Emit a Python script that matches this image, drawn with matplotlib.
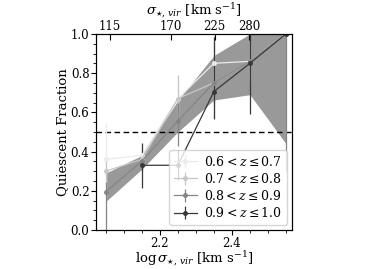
import numpy as np
import matplotlib
matplotlib.use("Agg")
import matplotlib.pyplot as plt
from matplotlib.ticker import MultipleLocator, FixedLocator

plt.rcParams['font.family'] = ['DejaVu Serif']
plt.rcParams['mathtext.fontset'] = 'dejavuserif'

logsig = np.array([2.05, 2.15, 2.25, 2.35, 2.45, 2.55])

labels = [r"$0.6 < z \leq 0.7$", r"$0.7 < z \leq 0.8$",
          r"$0.8 < z \leq 0.9$", r"$0.9 < z \leq 1.0$"]
colors = ['0.92', '0.78', '0.52', '0.22']

f1 = [0.36, 0.38, 0.67, 0.85, 0.86, 1.00]
f1_lo = [0.36, 0.05, 0.12, 0.10, 0.10, 0.0]
f1_hi = [0.18, 0.05, 0.12, 0.10, 0.10, 0.0]

f2 = [0.30, 0.36, 0.67, 0.75, 0.86, 1.00]
f2_lo = [0.05, 0.05, 0.12, 0.18, 0.10, 0.0]
f2_hi = [0.05, 0.05, 0.12, 0.24, 0.10, 0.0]

f3 = [0.195, 0.35, 0.556, 0.75, 0.86, 1.00]
f3_lo = [0.195, 0.05, 0.13, 0.10, 0.10, 0.70]
f3_hi = [0.05, 0.05, 0.09, 0.10, 0.10, 0.0]

f4 = [np.nan, 0.33, 0.33, 0.706, 0.85, 1.00]
f4_lo = [0.0, 0.115, 0.075, 0.14, 0.26, 0.0]
f4_hi = [0.0, 0.115, 0.08, 0.28, 0.15, 0.0]

band_lo = [0.145, 0.31, 0.50, 0.663, 0.69, 0.44]
band_hi = [0.29, 0.38, 0.66, 0.89, 1.00, 1.00]

top_ticks = [115, 170, 225, 280]

fig = plt.figure(figsize=(3.9, 2.69), dpi=100)
ax = fig.add_axes([0.247, 0.145, 0.502, 0.729])

ax.fill_between(logsig, band_lo, band_hi, color='0.6', lw=0, zorder=1)

series = [(f1, f1_lo, f1_hi), (f2, f2_lo, f2_hi), (f3, f3_lo, f3_hi), (f4, f4_lo, f4_hi)]
for (f, lo, hi), c, lab in zip(series, colors, labels):
    ax.errorbar(logsig, f, yerr=[lo, hi], color=c, marker='o', ms=2.5,
                lw=0.9, elinewidth=0.9, capsize=0, label=lab, zorder=3)

ax.axhline(0.5, color='k', ls=(0, (4, 2.5)), lw=1, zorder=2)

ax.set_xlim(2.024, 2.567)
ax.set_ylim(0, 1.0)
ax.xaxis.set_major_locator(MultipleLocator(0.2))
ax.xaxis.set_minor_locator(MultipleLocator(0.05))
ax.yaxis.set_major_locator(MultipleLocator(0.2))
ax.yaxis.set_minor_locator(MultipleLocator(0.05))
ax.tick_params(which='major', direction='out', length=3.5, width=0.8, labelsize=8.5, pad=1.5)
ax.tick_params(which='minor', direction='out', length=2, width=0.6)
ax.set_xticks([2.2, 2.4])
ax.set_xticklabels(['2.2', '2.4'])
ax.set_yticks([0.0, 0.2, 0.4, 0.6, 0.8, 1.0])
ax.set_yticklabels(['0.0', '0.2', '0.4', '0.6', '0.8', '1.0'])

ax.set_xlabel(r"$\log\sigma_{\star,\,vir}$ [km s$^{-1}$]", fontsize=9.5, labelpad=0)
ax.set_ylabel("Quiescent Fraction", fontsize=9.5, labelpad=1)

ax2 = ax.twiny()
ax2.set_xlim(ax.get_xlim())
ax2.xaxis.set_major_locator(FixedLocator(np.log10(top_ticks)))
ax2.set_xticklabels([str(t) for t in top_ticks])
ax2.tick_params(which='major', direction='in', length=4, width=0.8, labelsize=8.5, pad=0.3)
ax2.set_xlabel(r"$\sigma_{\star,\,vir}$ [km s$^{-1}$]", fontsize=9.5, labelpad=4)

leg = ax.legend(loc='lower right', fontsize=9, frameon=True, handlelength=1.8,
                borderpad=0.4, labelspacing=0.25, handletextpad=0.6, borderaxespad=0.4)
leg.set_zorder(5)

fig.savefig("out.png", dpi=100)
